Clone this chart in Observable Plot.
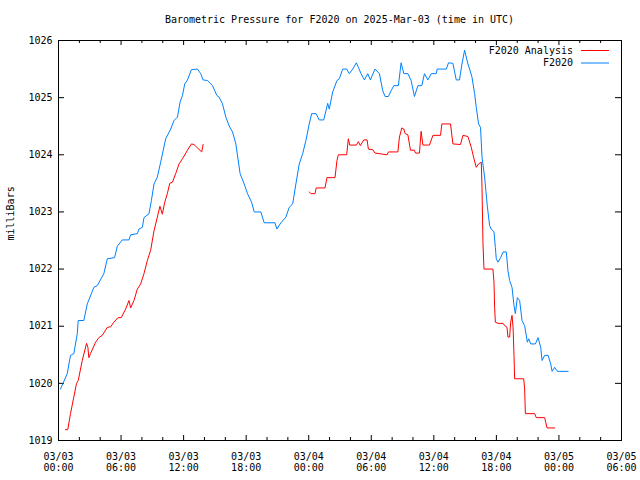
<!DOCTYPE html>
<html>
<head>
<meta charset="utf-8">
<script src="https://cdn.jsdelivr.net/npm/d3@7"></script>
<script src="https://cdn.jsdelivr.net/npm/@observablehq/plot@0.6"></script>
<style>
  html, body { margin: 0; padding: 0; background: #fff; }
  #title { height: 30px; box-sizing: border-box; padding: 14px 19px 0 58px; font: 10px/12px "DejaVu Sans Mono", monospace; text-align: center; color: #000; white-space: pre; }
  svg { display: block; }
</style>
</head>
<body>
<div id="title">Barometric Pressure for F2020 on 2025-Mar-03 (time in UTC)</div>
<div id="chart"></div>
<script>
const titleText = "Barometric Pressure for F2020 on 2025-Mar-03 (time in UTC)";
const yLabel = "milliBars";
const seriesNames = ["F2020 Analysis", "F2020"];
const seriesColors = ["#ff0000", "#0080ff"];
const startDay = "2025-03-03T00:00:00Z";

// hours since 03/03 00:00 UTC
const majorTickHours = [0, 6, 12, 18, 24, 30, 36, 42, 48, 54];
const minorTickHours = [2, 4, 8, 10, 14, 16, 20, 22, 26, 28, 32, 34, 38, 40, 44, 46, 50, 52];
const yTicks = [1019, 1020, 1021, 1022, 1023, 1024, 1025, 1026];

// F2020 (blue)
const f2020Hours = [0.19,0.84,1.15,1.47,1.80,1.89,2.43,2.76,3.39,3.72,4.35,4.68,5.38,5.64,6.12,6.76,6.92,7.56,7.72,8.04,8.20,8.68,8.91,9.16,9.48,9.80,10.28,10.76,11.08,11.41,11.66,11.89,12.11,12.37,12.75,13.33,13.64,13.87,14.29,14.77,15.18,15.40,15.73,16.05,16.36,16.69,17.01,17.42,17.81,18.13,18.52,18.77,19.41,19.73,20.76,20.95,21.33,21.81,22.13,22.46,22.77,23.09,23.42,23.73,24.05,24.28,24.70,25.01,25.44,25.82,25.97,26.30,26.71,26.93,27.26,27.64,27.89,28.22,28.57,28.76,29.02,29.34,29.66,29.91,30.36,30.78,31.10,31.33,31.64,31.90,32.16,32.60,32.86,33.12,33.51,33.82,34.14,34.47,34.85,35.10,35.43,35.75,36.23,36.32,37.19,37.41,37.83,38.15,38.46,38.70,38.95,39.27,39.43,39.66,39.91,40.07,40.29,40.48,40.62,40.87,41.13,41.35,41.51,41.77,41.90,41.99,42.15,42.41,42.64,42.95,43.11,43.27,43.50,43.69,43.82,44.01,44.23,44.46,44.71,44.97,45.10,45.29,45.74,46.00,46.25,46.38,46.63,46.96,47.21,47.34,47.59,47.85,48.88];
const f2020Values = [1019.90,1020.17,1020.49,1020.52,1020.87,1021.10,1021.10,1021.39,1021.68,1021.71,1021.92,1022.18,1022.20,1022.40,1022.51,1022.51,1022.60,1022.62,1022.70,1022.73,1022.90,1022.97,1023.20,1023.49,1023.61,1023.87,1024.28,1024.45,1024.60,1024.66,1024.92,1025.04,1025.24,1025.31,1025.49,1025.50,1025.42,1025.31,1025.30,1025.21,1025.04,1025.01,1024.89,1024.66,1024.51,1024.40,1024.19,1023.67,1023.49,1023.32,1023.17,1023.00,1023.00,1022.81,1022.81,1022.70,1022.81,1022.91,1023.08,1023.14,1023.49,1023.84,1024.02,1024.25,1024.54,1024.72,1024.72,1024.61,1024.61,1024.90,1024.80,1025.10,1025.30,1025.33,1025.50,1025.50,1025.42,1025.50,1025.61,1025.53,1025.42,1025.31,1025.42,1025.31,1025.50,1025.42,1025.12,1025.02,1025.02,1025.12,1025.21,1025.21,1025.61,1025.42,1025.42,1025.30,1025.02,1025.21,1025.21,1025.42,1025.31,1025.42,1025.42,1025.50,1025.50,1025.61,1025.60,1025.31,1025.31,1025.59,1025.83,1025.59,1025.50,1025.36,1025.07,1024.83,1024.54,1024.48,1023.96,1023.61,1023.10,1022.76,1022.70,1022.65,1022.38,1022.18,1022.12,1022.20,1022.30,1022.30,1021.97,1021.80,1021.68,1021.36,1021.22,1021.50,1021.45,1021.10,1021.01,1020.72,1020.78,1020.69,1020.69,1020.80,1020.63,1020.40,1020.49,1020.49,1020.34,1020.21,1020.28,1020.21,1020.21];

// F2020 Analysis (red), NaN marks the data gap
const analysisHours = [0.67,0.89,1.15,1.47,1.73,1.89,2.28,2.69,2.82,2.91,3.07,3.56,3.87,4.20,4.68,5.00,5.31,5.70,6.02,6.44,6.76,6.92,7.24,7.56,7.88,8.20,8.52,8.84,9.16,9.48,9.73,9.96,10.19,10.44,10.67,10.93,11.24,11.56,11.89,12.37,12.75,13.00,13.33,13.74,13.87,19.00,24.05,24.21,24.60,24.72,25.56,25.75,26.52,26.71,26.84,27.64,27.80,27.93,28.57,28.76,28.95,29.28,29.60,29.72,30.14,30.36,31.52,31.64,32.55,32.70,32.93,33.12,33.25,33.51,33.76,34.14,34.24,34.62,34.78,34.95,35.58,35.91,36.64,36.77,37.60,37.83,38.56,38.79,39.27,39.59,39.81,40.07,40.29,40.55,40.62,40.71,40.81,41.67,41.77,41.83,41.90,42.15,42.64,42.80,43.02,43.11,43.27,43.37,43.50,43.60,43.69,43.75,44.62,44.71,44.78,45.67,45.83,46.63,46.73,46.86,47.59];
const analysisValues = [1019.19,1019.19,1019.47,1019.76,1020.00,1020.05,1020.40,1020.70,1020.63,1020.45,1020.52,1020.72,1020.80,1020.84,1020.98,1020.99,1021.07,1021.15,1021.15,1021.30,1021.45,1021.32,1021.45,1021.65,1021.74,1021.92,1022.15,1022.33,1022.67,1022.91,1023.10,1022.96,1023.17,1023.32,1023.50,1023.52,1023.67,1023.84,1023.93,1024.08,1024.19,1024.18,1024.12,1024.05,1024.18,NaN,1023.35,1023.32,1023.32,1023.42,1023.42,1023.60,1023.60,1023.90,1024.00,1024.00,1024.28,1024.17,1024.17,1024.23,1024.16,1024.26,1024.26,1024.10,1024.09,1024.03,1024.00,1024.05,1024.05,1024.31,1024.47,1024.45,1024.37,1024.35,1024.08,1024.08,1024.03,1024.03,1024.41,1024.17,1024.17,1024.34,1024.34,1024.54,1024.54,1024.19,1024.18,1024.34,1024.32,1024.13,1023.96,1023.78,1023.84,1023.87,1023.43,1022.47,1022.00,1022.00,1021.77,1021.33,1021.07,1021.05,1021.05,1021.01,1020.98,1020.81,1020.81,1021.07,1021.19,1020.98,1020.49,1020.08,1020.08,1019.90,1019.47,1019.47,1019.40,1019.40,1019.32,1019.22,1019.22];

const t0 = new Date(startDay).getTime();
const toDate = h => new Date(t0 + h * 3600e3);
const f2020 = f2020Hours.map((h, i) => ({time: toDate(h), value: f2020Values[i]}));
const analysis = analysisHours.map((h, i) => ({time: toDate(h), value: analysisValues[i]}));
const majorTicks = majorTickHours.map(toDate);
const minorTicks = minorTickHours.map(toDate);
const fmt = d3.utcFormat("%m/%d\n%H:%M");

const W = 640, H = 450, mL = 58, mR = 19, mT = 10, mB = 40;
const innerH = H - mT - mB, innerW = W - mL - mR;

const chart = Plot.plot({
  width: W, height: H,
  marginLeft: mL, marginRight: mR, marginTop: mT, marginBottom: mB,
  style: {fontFamily: "'DejaVu Sans Mono', monospace", fontSize: "10px", background: "white", color: "black"},
  x: {type: "utc", domain: [toDate(majorTickHours[0]), toDate(majorTickHours[majorTickHours.length - 1])]},
  y: {domain: [yTicks[0], yTicks[yTicks.length - 1]]},
  marks: [
    Plot.axisX(majorTicks, {tickSize: 0, tickPadding: 11, tickFormat: fmt, label: null, lineHeight: 1.15}),
    Plot.axisY(yTicks, {tickSize: 0, tickPadding: 6, tickFormat: d => String(d), label: null}),
    Plot.ruleX(majorTicks, {x: d => d, insetTop: innerH - 5, stroke: "black"}),
    Plot.ruleX(majorTicks, {x: d => d, insetBottom: innerH - 5, stroke: "black"}),
    Plot.ruleX(minorTicks, {x: d => d, insetTop: innerH - 3, stroke: "black"}),
    Plot.ruleX(minorTicks, {x: d => d, insetBottom: innerH - 3, stroke: "black"}),
    Plot.ruleY(yTicks, {y: d => d, insetRight: innerW - 6, stroke: "black"}),
    Plot.ruleY(yTicks, {y: d => d, insetLeft: innerW - 6, stroke: "black"}),
    Plot.line(analysis, {x: "time", y: "value", stroke: seriesColors[0], strokeWidth: 1}),
    Plot.line(f2020, {x: "time", y: "value", stroke: seriesColors[1], strokeWidth: 1}),
    Plot.frame({stroke: "black"}),
    Plot.text([yLabel], {frameAnchor: "left", rotate: -90, dx: -48, fill: "black"})
  ]
});

// legend in the top-right corner of the frame
const svg = d3.select(chart);
const right = W - mR;
seriesNames.forEach((name, i) => {
  const y = mT + 10 + i * 12.5;
  svg.append("text")
    .attr("x", right - 48).attr("y", y).attr("dy", "0.35em")
    .attr("text-anchor", "end").attr("fill", "black")
    .attr("font-family", "'DejaVu Sans Mono', monospace").attr("font-size", 10)
    .text(name);
  svg.append("line")
    .attr("x1", right - 40).attr("x2", right - 12)
    .attr("y1", y + 0.5).attr("y2", y + 0.5)
    .attr("stroke", seriesColors[i]).attr("stroke-width", 1);
});

document.getElementById("chart").append(chart);
</script>
</body>
</html>
